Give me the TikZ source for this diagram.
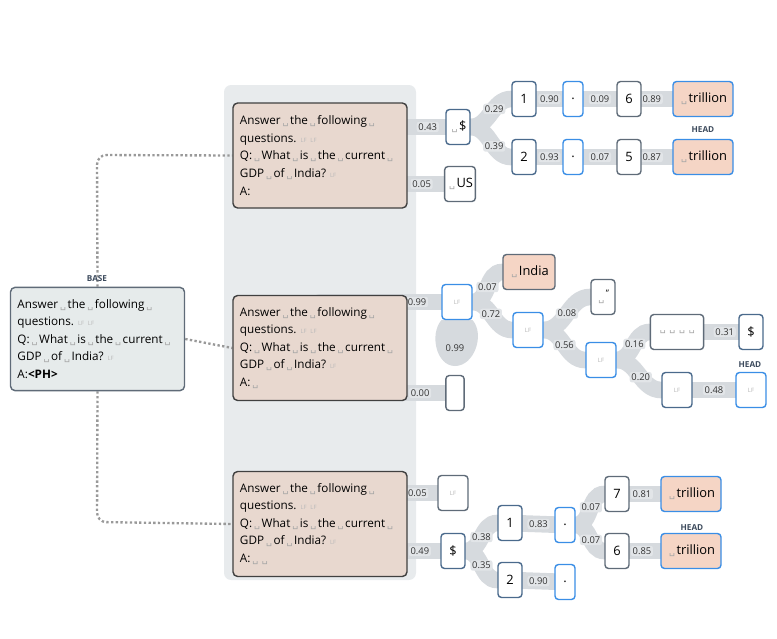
\documentclass[tikz,border=0pt]{standalone}
\usepackage{fontspec}
\setmainfont{Open Sans}
\newfontfamily\dejavu{DejaVu Sans}
\usetikzlibrary{backgrounds}
\definecolor{panel}{HTML}{E8EBED}
\definecolor{prompt}{HTML}{E8D8CF}
\definecolor{basefill}{HTML}{E6EBEB}
\definecolor{hot}{HTML}{F5D5C5}
\definecolor{blueline}{HTML}{3A8EE6}
\definecolor{steel}{HTML}{4A6A8C}
\definecolor{slate}{HTML}{5F6B78}
\definecolor{band}{HTML}{D6DADE}
\definecolor{labfill}{HTML}{E2E5E8}
\definecolor{headc}{HTML}{3C4A5C}
\newcommand{\vs}{{\,\color{gray!70}\fontsize{8}{8}\dejavu ␣\,}}
\newcommand{\lf}{{\color{gray!55}\fontsize{5}{5}\selectfont\ LF}}
\tikzset{
  tok/.style={draw=slate, line width=1.2pt, rounded corners=3pt, fill=white,
    minimum height=1.05cm, minimum width=0.72cm, inner sep=2pt, font=\fontsize{11}{12}\selectfont},
  blue tok/.style={tok, draw=blueline},
  steel tok/.style={tok, draw=steel},
  hot tok/.style={tok, draw=blueline, fill=hot, minimum width=1.8cm},
  lf tok/.style={tok, minimum width=0.9cm, font=\fontsize{5}{5}\selectfont\color{gray!60}},
  prompt box/.style={draw=black!75, line width=1.2pt, rounded corners=4pt, fill=prompt,
    text width=4.8cm, minimum height=3.15cm, align=left, inner sep=6pt,
    font=\fontsize{10}{15}\selectfont},
  base box/.style={prompt box, draw=slate, fill=basefill, text width=4.8cm, minimum height=3.1cm},
  link/.style={band, line width=0.5cm, line cap=round},
  plab/.style={fill=labfill, rounded corners=2pt, inner sep=1.5pt, font=\fontsize{8}{8}\selectfont, text=black!80},
  head/.style={font=\bfseries\fontsize{7}{7}\selectfont, text=headc},
  guide/.style={dotted, gray!80, line width=2pt, rounded corners=8pt}
}
\begin{document}
\begin{tikzpicture}[x=0.03cm, y=-0.03cm]
\useasboundingbox (0,0) rectangle (777,638);

% prompts
\node[base box] (base) at (97.5,339) {Answer\vs the\vs following\vs\\questions.\lf\lf\\Q:\vs What\vs is\vs the\vs current\vs\\GDP\vs of\vs India?\lf\\A:\textbf{<PH>}};
\node[head] at (97,279) {BASE};
\node[prompt box] (p1) at (320,155.5) {Answer\vs the\vs following\vs\\questions.\lf\lf\\Q:\vs What\vs is\vs the\vs current\vs\\GDP\vs of\vs India?\lf\\A:};
\node[prompt box] (p2) at (320,348) {Answer\vs the\vs following\vs\\questions.\lf\lf\\Q:\vs What\vs is\vs the\vs current\vs\\GDP\vs of\vs India?\lf\\A:\vs};
\node[prompt box] (p3) at (320,524) {Answer\vs the\vs following\vs\\questions.\lf\lf\\Q:\vs What\vs is\vs the\vs current\vs\\GDP\vs of\vs India?\lf\\A:\vs\vs};

% tree 1
\node[steel tok] (a1) at (458,127) {\vs\$};
\node[tok] (a2) at (460,184) {\vs US};
\node[steel tok] (a3) at (524,99) {1};
\node[steel tok] (a4) at (524,157) {2};
\node[blue tok, minimum width=0.6cm] (a5) at (573,99) {.};
\node[blue tok, minimum width=0.6cm] (a6) at (573,157) {.};
\node[tok] (a7) at (629,99) {6};
\node[tok] (a8) at (629,157) {5};
\node[hot tok] (a9) at (703,99) {\vs trillion};
\node[hot tok] (a10) at (703,157) {\vs trillion};
\node[head] at (703,130) {HEAD};

% tree 2
\node[lf tok, draw=blueline] (b1) at (457,302) {LF};
\node[tok, minimum width=0.55cm] (b2) at (455,393) {};
\node[tok, fill=hot, minimum width=1.56cm] (b3) at (529,272) {\vs India};
\node[lf tok, draw=blueline] (b4) at (528,330) {LF};
\node[tok] (b5) at (603,297) {\vs\textsuperscript{"}};
\node[lf tok, draw=blueline] (b6) at (601,360) {LF};
\node[tok, minimum width=1.6cm] (b7) at (677,332) {\vs\vs\vs\vs};
\node[steel tok] (b8) at (751,332) {\$};
\node[lf tok, draw=steel] (b9) at (677,390) {LF};
\node[lf tok, draw=blueline] (b10) at (751,390) {LF};
\node[head] at (750,365) {HEAD};

% tree 3
\node[lf tok] (c1) at (453,493) {LF};
\node[steel tok] (c2) at (453,551) {\$};
\node[steel tok] (c3) at (510,523) {1};
\node[steel tok] (c4) at (510,580) {2};
\node[blue tok, minimum width=0.6cm] (c5) at (565,525) {.};
\node[blue tok, minimum width=0.6cm] (c6) at (565,582) {.};
\node[tok] (c7) at (617,494) {7};
\node[tok] (c8) at (617,551) {6};
\node[hot tok] (c9) at (691,494) {\vs trillion};
\node[hot tok] (c10) at (691,551) {\vs trillion};
\node[head] at (692,528) {HEAD};

\begin{scope}[on background layer]
  \fill[panel, rounded corners=6pt] (224,85) rectangle (416,580);
  \draw[guide] (base.north) -- (97,155) -- (p1.west);
  \draw[guide] (base.east) -- (p2.west);
  \draw[guide] (base.south) -- (97,522) -- (p3.west);
  % tree 1 bands
  \draw[link] (p1.center |- a1) -- (a1) node[plab, pos=0.86] {0.43};
  \draw[link] (p1.center |- a2) -- (a2) node[plab, pos=0.82] {0.05};
  \draw[link] (a1) to[out=0,in=180] node[plab, pos=0.6] {0.29} (a3);
  \draw[link] (a1) to[out=0,in=180] node[plab, pos=0.6] {0.39} (a4);
  \draw[link] (a3) -- (a5) node[plab, midway] {0.90};
  \draw[link] (a4) -- (a6) node[plab, midway] {0.93};
  \draw[link] (a5) -- (a7) node[plab, midway] {0.09};
  \draw[link] (a6) -- (a8) node[plab, midway] {0.07};
  \draw[link] (a7) -- (a9) node[plab, pos=0.33] {0.89};
  \draw[link] (a8) -- (a10) node[plab, pos=0.33] {0.87};
  % tree 2 bands
  \draw[link] (p2.center |- b1) -- (b1) node[plab, pos=0.8] {0.99};
  \draw[link] (p2.center |- b2) -- (b2) node[plab, pos=0.8] {0.00};
  \draw[link] (b1) to[out=0,in=180] node[plab, pos=0.5] {0.07} (b3);
  \draw[link] (b1) to[out=0,in=180] node[plab, pos=0.45] {0.72} (b4);
  \fill[band] (b1.south west) to[out=-130,in=180] (455,366) to[out=0,in=-50] (b1.south east) -- cycle;
  \node[plab, fill=none] at (455,348) {0.99};
  \draw[link] (b4) to[out=0,in=180] node[plab, pos=0.5] {0.08} (b5);
  \draw[link] (b4) to[out=0,in=180] node[plab, pos=0.5] {0.56} (b6);
  \draw[link] (b6) to[out=0,in=180] node[plab, pos=0.55] {0.16} (b7);
  \draw[link] (b6) to[out=0,in=180] node[plab, pos=0.55] {0.20} (b9);
  \draw[link] (b7) -- (b8) node[plab, pos=0.6] {0.31};
  \draw[link] (b9) -- (b10) node[plab, midway] {0.48};
  % tree 3 bands
  \draw[link] (p3.center |- c1) -- (c1) node[plab, pos=0.83] {0.05};
  \draw[link] (p3.center |- c2) -- (c2) node[plab, pos=0.83] {0.49};
  \draw[link] (c2) to[out=0,in=180] node[plab, pos=0.5] {0.38} (c3);
  \draw[link] (c2) to[out=0,in=180] node[plab, pos=0.5] {0.35} (c4);
  \draw[link] (c3) -- (c5) node[plab, midway] {0.83};
  \draw[link] (c4) -- (c6) node[plab, midway] {0.90};
  \draw[link] (c5) to[out=0,in=180] node[plab, pos=0.55] {0.07} (c7);
  \draw[link] (c5) to[out=0,in=180] node[plab, pos=0.55] {0.07} (c8);
  \draw[link] (c7) -- (c9) node[plab, pos=0.4] {0.81};
  \draw[link] (c8) -- (c10) node[plab, pos=0.4] {0.85};
\end{scope}
\end{tikzpicture}
\end{document}
